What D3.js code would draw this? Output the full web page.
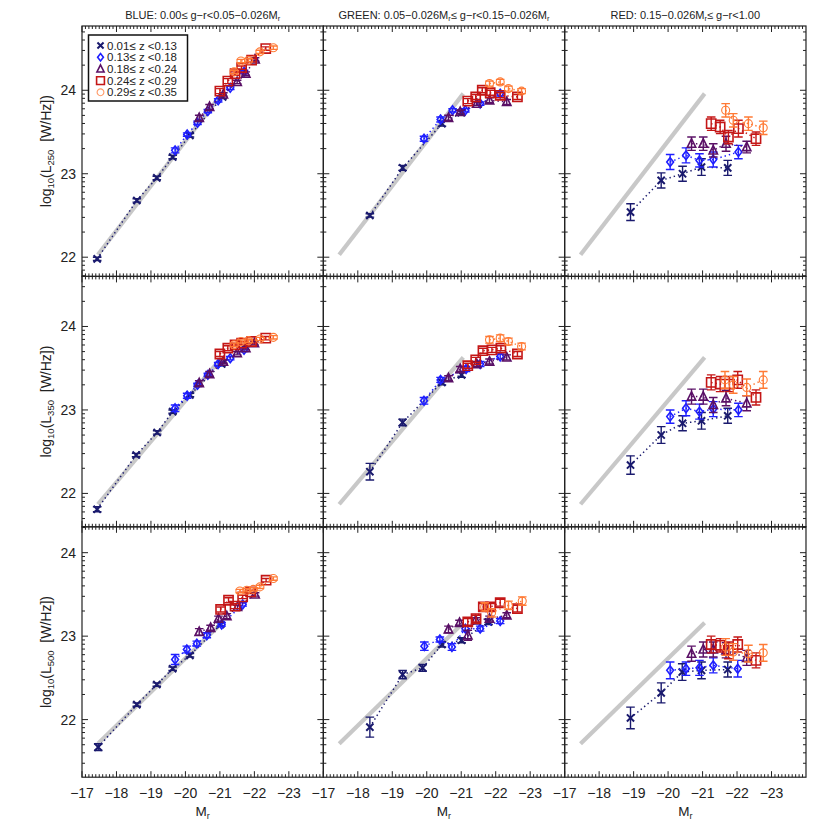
<!DOCTYPE html>
<html><head><meta charset="utf-8">
<script src="https://cdn.jsdelivr.net/npm/d3@7"></script>
<style>body{margin:0;background:#fff}svg{display:block}text{font-family:"Liberation Sans",Arial,sans-serif}</style>
</head><body><svg id="c" width="830" height="830"></svg>
<script>
// ---------- data ----------
const zLabels = ["0.01\u2264 z <0.13","0.13\u2264 z <0.18","0.18\u2264 z <0.24","0.24\u2264 z <0.29","0.29\u2264 z <0.35"];
const markers = ["x","diamond","triangle","square","circle"];
const colors = ["#1a1a6e","#1f1fff","#5a1066","#c41616","#ff7a35"];
const colTitles = [["BLUE: 0.00\u2264 g\u2212r<0.05\u22120.026M","r",""],["GREEN: 0.05\u22120.026M","r","\u2264 g\u2212r<0.15\u22120.026M","r"],["RED: 0.15\u22120.026M","r","\u2264 g\u2212r<1.00"]];
const bands = ["250","350","500"];
const yDomains = [[21.77,24.77],[21.6,24.6],[21.31,24.31]];
const xTicks = [-17,-18,-19,-20,-21,-22,-23];
const yTicks = [22,23,24];
// reference line per band: [M0, logL0, M1, logL1]
const refLines = [[-17.46,22.03,-21.06,23.96],[-17.46,21.87,-21.06,23.63],[-17.46,21.71,-21.06,23.16]];

// points: [M_r, log10 L, error], one list per redshift bin
const p250_blue = [
 [[-17.44,21.98,0.02],[-18.59,22.68,0.02],[-19.17,22.95,0.02],[-19.63,23.20,0.02],[-20.13,23.46,0.02],[-21.08,23.92,0.02]],
 [[-19.70,23.28,0.03],[-20.05,23.47,0.02],[-20.35,23.61,0.02],[-20.65,23.75,0.02],[-20.95,23.88,0.02],[-21.30,24.03,0.02],[-21.70,24.22,0.02]],
 [[-20.40,23.67,0.03],[-20.70,23.80,0.03],[-21.10,23.95,0.02],[-21.50,24.10,0.02],[-21.75,24.20,0.02],[-22.02,24.37,0.02]],
 [[-21.00,23.99,0.03],[-21.23,24.11,0.03],[-21.44,24.20,0.02],[-21.63,24.27,0.02],[-21.92,24.36,0.02],[-22.33,24.50,0.02]],
 [[-21.41,24.22,0.02],[-21.61,24.35,0.02],[-21.83,24.36,0.02],[-22.16,24.46,0.02],[-22.55,24.51,0.02]]];
const p250_green = [
 [[-18.35,22.50,0.02],[-19.30,23.07,0.03],[-20.44,23.60,0.03],[-21.00,23.73,0.03]],
 [[-19.92,23.42,0.03],[-20.40,23.65,0.03],[-20.75,23.76,0.02],[-21.12,23.76,0.02],[-21.55,23.84,0.02],[-22.13,23.96,0.03]],
 [[-20.63,23.67,0.03],[-20.97,23.74,0.02],[-21.45,23.84,0.02],[-21.82,23.88,0.03],[-22.32,23.86,0.03]],
 [[-21.19,23.87,0.03],[-21.42,23.92,0.03],[-21.61,24.00,0.03],[-21.84,23.97,0.03],[-22.13,23.94,0.03],[-22.63,23.92,0.03]],
 [[-21.82,24.08,0.03],[-22.13,24.10,0.03],[-22.37,24.02,0.03],[-22.75,23.99,0.03]]];
const p250_red = [
 [[-18.91,22.54,0.10],[-19.80,22.92,0.09],[-20.42,23.00,0.09],[-20.97,23.08,0.10],[-21.73,23.07,0.09]],
 [[-20.06,23.14,0.09],[-20.52,23.22,0.09],[-20.91,23.16,0.08],[-21.31,23.17,0.09],[-22.04,23.26,0.08]],
 [[-20.68,23.36,0.08],[-21.02,23.36,0.08],[-21.31,23.28,0.08],[-21.68,23.36,0.09],[-22.28,23.32,0.07]],
 [[-21.25,23.60,0.08],[-21.51,23.56,0.08],[-21.75,23.44,0.08],[-22.04,23.54,0.10],[-22.55,23.42,0.08]],
 [[-21.67,23.76,0.08],[-21.89,23.64,0.08],[-22.33,23.60,0.08],[-22.76,23.55,0.08]]];
const p350_blue = [
 [[-17.44,21.81,0.03],[-18.57,22.46,0.02],[-19.18,22.73,0.02],[-19.63,22.98,0.02],[-20.13,23.18,0.02],[-21.05,23.55,0.02]],
 [[-19.70,23.02,0.04],[-20.05,23.17,0.03],[-20.35,23.30,0.02],[-20.65,23.42,0.02],[-20.95,23.55,0.02],[-21.30,23.62,0.02],[-21.70,23.72,0.02]],
 [[-20.40,23.32,0.03],[-20.70,23.43,0.03],[-21.10,23.58,0.02],[-21.50,23.68,0.02],[-21.75,23.74,0.02],[-22.00,23.80,0.02]],
 [[-21.00,23.67,0.03],[-21.23,23.74,0.03],[-21.44,23.78,0.02],[-21.63,23.80,0.02],[-21.92,23.82,0.02],[-22.33,23.86,0.02]],
 [[-21.41,23.78,0.02],[-21.61,23.82,0.02],[-21.83,23.83,0.02],[-22.16,23.85,0.02],[-22.55,23.87,0.02]]];
const p350_green = [
 [[-18.35,22.26,0.10],[-19.30,22.85,0.04],[-20.44,23.33,0.03],[-21.01,23.42,0.03]],
 [[-19.92,23.11,0.04],[-20.40,23.36,0.03],[-21.14,23.49,0.03],[-21.55,23.55,0.03],[-22.13,23.64,0.03]],
 [[-20.63,23.38,0.03],[-20.97,23.49,0.03],[-21.45,23.55,0.03],[-21.82,23.58,0.03],[-22.32,23.63,0.03]],
 [[-21.19,23.53,0.03],[-21.42,23.60,0.03],[-21.63,23.71,0.03],[-21.89,23.72,0.03],[-22.15,23.74,0.03],[-22.63,23.67,0.03]],
 [[-21.82,23.84,0.04],[-22.13,23.86,0.04],[-22.37,23.82,0.04],[-22.75,23.76,0.04]]];
const p350_red = [
 [[-18.91,22.34,0.11],[-19.80,22.70,0.10],[-20.42,22.84,0.09],[-20.97,22.87,0.10],[-21.73,22.93,0.09]],
 [[-20.06,22.92,0.08],[-20.52,23.02,0.09],[-20.91,22.98,0.09],[-21.31,23.01,0.09],[-22.04,23.00,0.08]],
 [[-20.68,23.16,0.09],[-21.02,23.16,0.09],[-21.31,23.06,0.09],[-21.68,23.14,0.09],[-22.28,23.08,0.09]],
 [[-21.25,23.33,0.09],[-21.51,23.31,0.09],[-21.78,23.31,0.09],[-22.02,23.36,0.10],[-22.55,23.15,0.09]],
 [[-21.65,23.36,0.10],[-21.89,23.30,0.10],[-22.28,23.27,0.10],[-22.76,23.36,0.10]]];
const p500_blue = [
 [[-17.47,21.67,0.04],[-18.59,22.18,0.02],[-19.17,22.42,0.02],[-19.63,22.61,0.02],[-20.13,22.77,0.02],[-21.02,23.14,0.02]],
 [[-19.70,22.72,0.06],[-20.04,22.84,0.04],[-20.33,22.91,0.03],[-20.62,23.01,0.03],[-21.05,23.14,0.02],[-21.66,23.38,0.02]],
 [[-20.40,23.05,0.04],[-20.73,23.10,0.03],[-20.96,23.21,0.03],[-21.20,23.24,0.03],[-21.51,23.35,0.02],[-22.02,23.50,0.02]],
 [[-21.02,23.32,0.03],[-21.25,23.43,0.03],[-21.44,23.36,0.03],[-21.66,23.47,0.02],[-21.89,23.53,0.02],[-22.34,23.67,0.02]],
 [[-21.58,23.54,0.02],[-21.78,23.55,0.02],[-21.97,23.56,0.02],[-22.16,23.59,0.02],[-22.55,23.69,0.02]]];
const p500_green = [
 [[-18.35,21.91,0.12],[-19.30,22.54,0.05],[-19.88,22.62,0.04],[-20.44,22.90,0.03],[-21.01,22.95,0.03],[-21.79,23.17,0.03]],
 [[-19.93,22.88,0.05],[-20.38,22.96,0.03],[-20.73,22.87,0.04],[-21.12,23.09,0.03],[-21.55,23.09,0.03],[-22.13,23.18,0.03]],
 [[-20.63,23.08,0.04],[-20.95,23.16,0.03],[-21.19,23.01,0.06],[-21.42,23.19,0.03],[-21.82,23.21,0.03],[-22.32,23.25,0.03]],
 [[-21.19,23.17,0.04],[-21.43,23.21,0.04],[-21.64,23.35,0.04],[-21.85,23.35,0.04],[-22.13,23.40,0.04],[-22.63,23.33,0.04]],
 [[-21.68,23.35,0.05],[-21.88,23.28,0.05],[-22.37,23.37,0.05],[-22.77,23.42,0.05]]];
const p500_red = [
 [[-18.91,22.02,0.13],[-19.80,22.32,0.12],[-20.41,22.57,0.10],[-20.97,22.59,0.10],[-21.73,22.60,0.09]],
 [[-20.06,22.59,0.10],[-20.52,22.61,0.08],[-20.91,22.62,0.09],[-21.31,22.65,0.09],[-22.02,22.61,0.10]],
 [[-20.68,22.79,0.09],[-21.02,22.84,0.09],[-21.31,22.84,0.09],[-21.68,22.83,0.09],[-22.28,22.74,0.09]],
 [[-21.25,22.90,0.10],[-21.51,22.89,0.08],[-21.75,22.83,0.10],[-22.02,22.90,0.09],[-22.55,22.71,0.09]],
 [[-21.67,22.87,0.10],[-21.89,22.81,0.10],[-22.33,22.79,0.10],[-22.76,22.80,0.10]]];
const panels = [[p250_blue,p250_green,p250_red],[p350_blue,p350_green,p350_red],[p500_blue,p500_green,p500_red]];

// ---------- layout ----------
const X0 = 82, CW = 241.33, Y0 = 26, RH = 250.4;
const svg = d3.select("#c");
const axisCol = "#222";

function markerPath(t, s){
  if(t==="x") return `M${-s},${-s}L${s},${s}M${-s},${s}L${s},${-s}`;
  if(t==="diamond") return `M0,${-s*1.1}L${s*0.85},0L0,${s*1.1}L${-s*0.85},0Z`;
  if(t==="triangle") return `M0,${-s*1.15}L${s},${s*0.85}L${-s},${s*0.85}Z`;
  if(t==="square") return `M${-s},${-s}H${s}V${s}H${-s}Z`;
  const p = d3.path(); p.arc(0,0,s,0,2*Math.PI); p.closePath(); return p.toString();
}
const mSize = {x:3.6, diamond:4, triangle:4.2, square:4.6, circle:4};
const mWidth = {x:2, diamond:1.6, triangle:1.6, square:1.6, circle:1.1};

for(let r=0;r<3;r++){
  for(let c=0;c<3;c++){
    const left = X0 + c*CW, top = Y0 + r*RH;
    const x = d3.scaleLinear().domain([-17,-24]).range([left, left+CW]);
    const y = d3.scaleLinear().domain(yDomains[r]).range([top+RH, top]);
    const g = svg.append("g");
    const cid = `clip${r}${c}`;
    svg.append("clipPath").attr("id",cid).append("rect").attr("x",left).attr("y",top).attr("width",CW).attr("height",RH);
    const pg = g.append("g").attr("clip-path",`url(#${cid})`);
    const rl = refLines[r];
    pg.append("line").attr("x1",x(rl[0])).attr("y1",y(rl[1])).attr("x2",x(rl[2])).attr("y2",y(rl[3]))
      .attr("stroke","#c8c8c8").attr("stroke-width",4.2);
    panels[r][c].forEach((pts,k)=>{
      const col = colors[k];
      const line = d3.line().x(d=>x(d[0])).y(d=>y(d[1]));
      pg.append("path").attr("d",line(pts)).attr("fill","none").attr("stroke",col)
        .attr("stroke-width",1.5).attr("stroke-dasharray","1.4,3");
      const eb = pg.append("g").attr("stroke",col).attr("stroke-width",1.4);
      pts.forEach(d=>{
        const cx = x(d[0]), y1 = y(d[1]+d[2]), y2 = y(d[1]-d[2]);
        eb.append("line").attr("x1",cx).attr("x2",cx).attr("y1",y1).attr("y2",y2);
        eb.append("line").attr("x1",cx-4.3).attr("x2",cx+4.3).attr("y1",y1).attr("y2",y1);
        eb.append("line").attr("x1",cx-4.3).attr("x2",cx+4.3).attr("y1",y2).attr("y2",y2);
      });
      pg.append("g").selectAll("path").data(pts).join("path")
        .attr("transform",d=>`translate(${x(d[0])},${y(d[1])})`)
        .attr("d",markerPath(markers[k], mSize[markers[k]]))
        .attr("fill","none").attr("stroke",col).attr("stroke-width",mWidth[markers[k]]);
    });
    const tg = g.append("g").attr("stroke",axisCol).attr("stroke-width",1);
    tg.append("rect").attr("x",left).attr("y",top).attr("width",CW).attr("height",RH).attr("fill","none").attr("stroke-width",1.2);
    d3.range(-170,-240,-1).forEach(v=>{
      const m = v/10; const major = v%10===0; const len = major?6:3; const px = x(m);
      tg.append("line").attr("x1",px).attr("x2",px).attr("y1",top+RH).attr("y2",top+RH-len);
      tg.append("line").attr("x1",px).attr("x2",px).attr("y1",top).attr("y2",top+len);
    });
    const yt = [];
    for(let dec=21; dec<=24; dec++) for(let k=1;k<=9;k++){
      const v = dec + Math.log10(k);
      if(v>=yDomains[r][0] && v<=yDomains[r][1]) yt.push([v,k===1]);
    }
    yt.forEach(([v,major])=>{
      const len = major?6:3; const py = y(v);
      tg.append("line").attr("x1",left).attr("x2",left+len).attr("y1",py).attr("y2",py);
      tg.append("line").attr("x1",left+CW).attr("x2",left+CW-len).attr("y1",py).attr("y2",py);
    });
    if(c===0){
      yTicks.forEach(v=>{
        g.append("text").attr("x",left-6).attr("y",y(v)+5).attr("text-anchor","end")
          .attr("font-size",14).attr("fill","#222").text(v);
      });
      const ylab = g.append("text").attr("transform",`translate(51,${top+RH/2}) rotate(-90)`)
        .attr("text-anchor","middle").attr("font-size",14).attr("fill","#222");
      ylab.append("tspan").text("log");
      ylab.append("tspan").attr("font-size",9.5).attr("dy",3).text("10");
      ylab.append("tspan").attr("dy",-3).text("(L");
      ylab.append("tspan").attr("font-size",9.5).attr("dy",3).text(bands[r]);
      ylab.append("tspan").attr("dy",-3).text("\u00a0 [W/Hz])");
    }
    if(r===2){
      xTicks.forEach(v=>{
        g.append("text").attr("x",x(v)).attr("y",top+RH+21).attr("text-anchor","middle")
          .attr("font-size",14).attr("fill","#222").text("\u2212"+Math.abs(v));
      });
      const xl = g.append("text").attr("x",left+CW/2).attr("y",top+RH+39).attr("text-anchor","middle")
        .attr("font-size",13.5).attr("fill","#222");
      xl.append("tspan").text("M");
      xl.append("tspan").attr("font-size",9).attr("dy",3).text("r");
    }
    if(r===0){
      const t = colTitles[c];
      const tt = g.append("text").attr("x",left+CW/2).attr("y",19).attr("text-anchor","middle")
        .attr("font-size",11).attr("fill","#222");
      tt.append("tspan").text(t[0]);
      tt.append("tspan").attr("font-size",7.5).attr("dy",2).text(t[1]);
      if(t[2]) tt.append("tspan").attr("dy",-2).text(t[2]);
      if(t[3]) tt.append("tspan").attr("font-size",7.5).attr("dy",2).text(t[3]);
    }
    if(r===0 && c===0){
      const lg = g.append("g");
      lg.append("rect").attr("x",88.5).attr("y",35).attr("width",99).attr("height",66)
        .attr("fill","#fff").attr("stroke","#111").attr("stroke-width",1.5);
      zLabels.forEach((lab,k)=>{
        const ly = 45.5 + k*11.7;
        lg.append("path").attr("transform",`translate(100.5,${ly})`)
          .attr("d",markerPath(markers[k], mSize[markers[k]]*0.85))
          .attr("fill","none").attr("stroke",k===4?"#ff9966":colors[k]).attr("stroke-width",mWidth[markers[k]]);
        lg.append("text").attr("x",107).attr("y",ly+4).attr("font-size",11.5).attr("fill","#222").text(lab);
      });
    }
  }
}
</script></body></html>
